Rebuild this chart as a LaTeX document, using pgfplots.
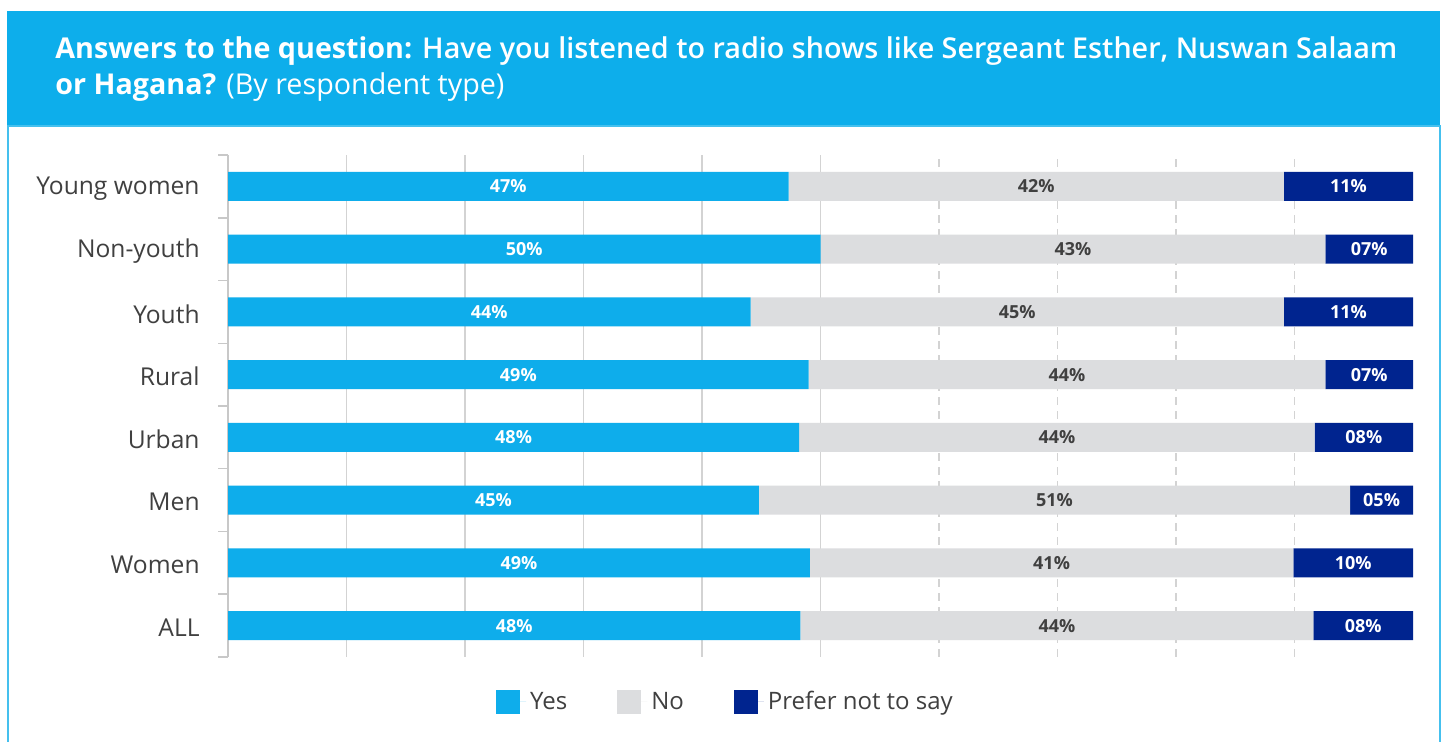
\documentclass[border=0pt]{standalone}
\usepackage{fontspec}
\setmainfont{Open Sans}
\newfontfamily\semib{Open Sans Semibold}
\usepackage{pgfplots}
\pgfplotsset{compat=1.18}

\definecolor{yescol}{HTML}{0EADEB}
\definecolor{nocol}{HTML}{DCDDDF}
\definecolor{pnscol}{HTML}{00248F}
\definecolor{titlebg}{HTML}{0DAEEB}
\definecolor{framecol}{HTML}{45C0EE}
\definecolor{textgray}{HTML}{404040}
\definecolor{gridcol}{HTML}{D3D3D3}
\definecolor{axisgray}{HTML}{C8C8C8}

\begin{document}
\begin{tikzpicture}
	\fill[white] (0,0) rectangle (724pt,371pt);
	\useasboundingbox (0,0) rectangle (724pt,371pt);

	% title band and frame
	\fill[titlebg] (3.5pt,308.5pt) rectangle (720pt,365.5pt);
	\draw[framecol, line width=1pt] (4pt,-1pt) -- (4pt,308pt) -- (720pt,308pt) -- (720pt,-1pt);
	\node[anchor=base west, inner sep=0pt, text=white, font=\fontsize{14.35}{17}\selectfont]
		at (27.5pt,341.5pt) {\textbf{Answers to the question:} {\semib Have you listened to radio shows like Sergeant Esther, Nuswan Salaam}};
	\node[anchor=base west, inner sep=0pt, text=white, font=\fontsize{14.35}{17}\selectfont]
		at (27.5pt,323.5pt) {\textbf{or Hagana?} (By respondent type)};

	\begin{axis}[
			at={(114pt,42.5pt)}, anchor=south west,
			scale only axis, width=592.5pt, height=251pt,
			xbar stacked, bar width=14.5pt,
			xmin=0, xmax=100, ymin=-0.5, ymax=7.5,
			axis lines*=left,
			x axis line style={draw=none},
			y axis line style={draw=axisgray, line width=0.75pt, -},
			xtick={10,20,30,40,50}, xticklabels={},
			xtick style={draw=none},
			xmajorgrids,
			major x grid style={gridcol, line width=0.75pt},
			extra x ticks={60,70,80,90}, extra x tick labels={},
			extra x tick style={grid=major, major grid style={gridcol, line width=0.75pt, dash pattern=on 4pt off 3pt}},
			ytick={0,...,7},
			yticklabels={ALL,Women,Men,Urban,Rural,Youth,Non-youth,Young women},
			minor ytick={-0.5,0.5,...,7.5},
			major tick length=0pt, minor tick length=5pt, tick align=outside,
			ytick style={draw=axisgray, line width=0.75pt},
			yticklabel style={font=\fontsize{12.3}{14}\selectfont, text=textgray, inner sep=0pt, xshift=-14pt, yshift=-1pt},
			point meta=explicit symbolic,
			nodes near coords,
			every node near coord/.append style={anchor=center, font=\fontsize{9}{10}\selectfont\bfseries},
			legend style={at={(0.4207,-0.0896)}, anchor=center, draw=none, fill=none,
				legend columns=-1, font=\fontsize{12}{14}\selectfont, nodes={text=textgray},
				/tikz/every even column/.append style={column sep=23pt}},
			legend image code/.code={\fill[#1] (0pt,-6pt) rectangle (12pt,6pt); \path (0pt,0pt) -- (15pt,0pt);},
		]

		\addplot[fill=yescol, draw=none, every node near coord/.append style={text=white}] coordinates {
			(47.3,7) [47\%] (50.0,6) [50\%] (44.1,5) [44\%] (49.0,4) [49\%]
			(48.2,3) [48\%] (44.8,2) [45\%] (49.1,1) [49\%] (48.3,0) [48\%]
		};
		\addplot[fill=nocol, draw=none, every node near coord/.append style={text=textgray}] coordinates {
			(41.8,7) [42\%] (42.6,6) [43\%] (45.0,5) [45\%] (43.6,4) [44\%]
			(43.5,3) [44\%] (49.9,2) [51\%] (40.8,1) [41\%] (43.3,0) [44\%]
		};
		\addplot[fill=pnscol, draw=none, every node near coord/.append style={text=white}] coordinates {
			(10.9,7) [11\%] (7.4,6) [07\%] (10.9,5) [11\%] (7.4,4) [07\%]
			(8.3,3) [08\%] (5.3,2) [05\%] (10.1,1) [10\%] (8.4,0) [08\%]
		};
		\legend{Yes, No, Prefer not to say}
	\end{axis}
\end{tikzpicture}
\end{document}
